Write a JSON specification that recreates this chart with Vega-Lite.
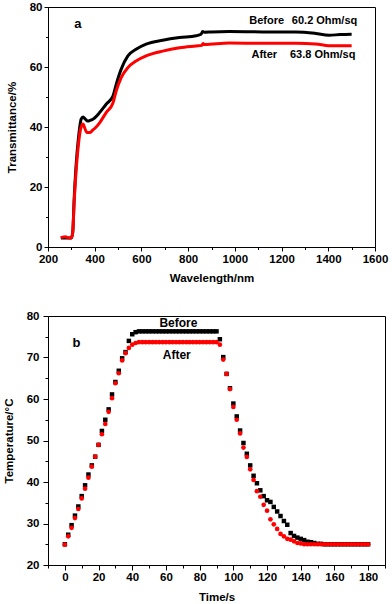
{
  "$schema": "https://vega.github.io/schema/vega-lite/v6.json",
  "padding": {"left": 3, "top": 0, "right": 4, "bottom": 2},
  "spacing": 24,
  "background": "white",
  "config": {
    "font": "Liberation Sans",
    "view": {"stroke": "black", "strokeWidth": 1},
    "axis": {
      "grid": false,
      "domainColor": "black",
      "domainWidth": 1,
      "tickColor": "black",
      "tickWidth": 1,
      "labelColor": "black",
      "labelFont": "Liberation Sans",
      "labelFontSize": 11.5,
      "labelFontWeight": "bold",
      "titleColor": "black",
      "titleFont": "Liberation Sans",
      "titleFontSize": 11.5,
      "titleFontWeight": "bold",
      "labelFlush": false,
      "labelOverlap": false
    }
  },
  "datasets": {
    "trans": [
      {"wl": 255, "T": 3.0, "s": "Before"}, {"wl": 300, "T": 3.0, "s": "Before"},
      {"wl": 306, "T": 5, "s": "Before"}, {"wl": 312, "T": 16, "s": "Before"},
      {"wl": 320, "T": 27, "s": "Before"}, {"wl": 330, "T": 36, "s": "Before"},
      {"wl": 342, "T": 42.6, "s": "Before"}, {"wl": 350, "T": 43.3, "s": "Before"},
      {"wl": 360, "T": 42.6, "s": "Before"}, {"wl": 370, "T": 42.0, "s": "Before"},
      {"wl": 380, "T": 42.2, "s": "Before"}, {"wl": 392, "T": 42.6, "s": "Before"},
      {"wl": 421, "T": 44.8, "s": "Before"}, {"wl": 449, "T": 47.6, "s": "Before"},
      {"wl": 478, "T": 50.3, "s": "Before"}, {"wl": 492, "T": 54.2, "s": "Before"},
      {"wl": 513, "T": 59.2, "s": "Before"}, {"wl": 542, "T": 63.7, "s": "Before"},
      {"wl": 577, "T": 65.9, "s": "Before"}, {"wl": 620, "T": 67.6, "s": "Before"},
      {"wl": 691, "T": 68.9, "s": "Before"}, {"wl": 763, "T": 69.8, "s": "Before"},
      {"wl": 834, "T": 70.4, "s": "Before"}, {"wl": 855, "T": 70.9, "s": "Before"},
      {"wl": 862, "T": 71.8, "s": "Before"}, {"wl": 869, "T": 71.6, "s": "Before"},
      {"wl": 900, "T": 71.7, "s": "Before"}, {"wl": 976, "T": 71.8, "s": "Before"},
      {"wl": 1118, "T": 71.7, "s": "Before"}, {"wl": 1261, "T": 71.7, "s": "Before"},
      {"wl": 1346, "T": 71.2, "s": "Before"}, {"wl": 1403, "T": 70.6, "s": "Before"},
      {"wl": 1450, "T": 70.8, "s": "Before"}, {"wl": 1500, "T": 70.9, "s": "Before"},
      {"wl": 255, "T": 3.0, "s": "After"}, {"wl": 262, "T": 3.3, "s": "After"},
      {"wl": 275, "T": 3.4, "s": "After"}, {"wl": 285, "T": 3.1, "s": "After"},
      {"wl": 300, "T": 3.0, "s": "After"}, {"wl": 306, "T": 5, "s": "After"},
      {"wl": 312, "T": 15, "s": "After"}, {"wl": 320, "T": 25, "s": "After"},
      {"wl": 330, "T": 34, "s": "After"}, {"wl": 340, "T": 39.5, "s": "After"},
      {"wl": 350, "T": 41.0, "s": "After"}, {"wl": 358, "T": 39.5, "s": "After"},
      {"wl": 366, "T": 38.2, "s": "After"}, {"wl": 380, "T": 38.2, "s": "After"},
      {"wl": 392, "T": 39.0, "s": "After"}, {"wl": 400, "T": 39.5, "s": "After"},
      {"wl": 421, "T": 41.4, "s": "After"}, {"wl": 449, "T": 44.8, "s": "After"},
      {"wl": 478, "T": 48.0, "s": "After"}, {"wl": 492, "T": 52.0, "s": "After"},
      {"wl": 513, "T": 56.4, "s": "After"}, {"wl": 542, "T": 59.8, "s": "After"},
      {"wl": 577, "T": 62.0, "s": "After"}, {"wl": 620, "T": 63.7, "s": "After"},
      {"wl": 691, "T": 65.3, "s": "After"}, {"wl": 763, "T": 66.4, "s": "After"},
      {"wl": 834, "T": 67.0, "s": "After"}, {"wl": 858, "T": 67.2, "s": "After"},
      {"wl": 864, "T": 67.8, "s": "After"}, {"wl": 870, "T": 67.5, "s": "After"},
      {"wl": 976, "T": 68.0, "s": "After"}, {"wl": 1118, "T": 67.9, "s": "After"},
      {"wl": 1261, "T": 67.9, "s": "After"}, {"wl": 1346, "T": 67.7, "s": "After"},
      {"wl": 1403, "T": 67.1, "s": "After"}, {"wl": 1500, "T": 67.1, "s": "After"}
    ],
    "alabels": [
      {"x": 1136, "y": 75.3, "text": "Before"},
      {"x": 1384, "y": 75.3, "text": "60.2 Ohm/sq"},
      {"x": 1126, "y": 64.0, "text": "After"},
      {"x": 1376, "y": 64.0, "text": "63.8 Ohm/sq"}
    ],
    "apanel": [{"x": 328, "y": 74.2, "text": "a"}],
    "temp": [
      {"t": 0, "Tb": 25.0, "Ta": 24.9}, {"t": 2, "Tb": 27.3, "Ta": 26.9},
      {"t": 4, "Tb": 29.6, "Ta": 28.95}, {"t": 6, "Tb": 31.9, "Ta": 31.3},
      {"t": 8, "Tb": 34.1, "Ta": 33.5}, {"t": 10, "Tb": 36.6, "Ta": 36.05},
      {"t": 12, "Tb": 39.2, "Ta": 38.4}, {"t": 14, "Tb": 41.8, "Ta": 41.05},
      {"t": 16, "Tb": 44.0, "Ta": 43.7}, {"t": 18, "Tb": 46.1, "Ta": 46.1},
      {"t": 20, "Tb": 48.95, "Ta": 48.95}, {"t": 22, "Tb": 52.3, "Ta": 51.5},
      {"t": 24, "Tb": 55.0, "Ta": 54.0}, {"t": 26, "Tb": 57.5, "Ta": 56.9},
      {"t": 28, "Tb": 61.1, "Ta": 60.2}, {"t": 30, "Tb": 64.1, "Ta": 63.8},
      {"t": 32, "Tb": 66.8, "Ta": 66.2}, {"t": 34, "Tb": 69.8, "Ta": 69.3},
      {"t": 36, "Tb": 71.3, "Ta": 71.05}, {"t": 38, "Tb": 74.0, "Ta": 72.3},
      {"t": 40, "Tb": 75.6, "Ta": 73.1}, {"t": 42, "Tb": 76.1, "Ta": 73.5},
      {"t": 44, "Tb": 76.3, "Ta": 73.7}, {"t": 46, "Tb": 76.3, "Ta": 73.7},
      {"t": 48, "Tb": 76.3, "Ta": 73.7}, {"t": 50, "Tb": 76.3, "Ta": 73.7},
      {"t": 52, "Tb": 76.3, "Ta": 73.7}, {"t": 54, "Tb": 76.3, "Ta": 73.7},
      {"t": 56, "Tb": 76.3, "Ta": 73.7}, {"t": 58, "Tb": 76.3, "Ta": 73.7},
      {"t": 60, "Tb": 76.3, "Ta": 73.7}, {"t": 62, "Tb": 76.3, "Ta": 73.7},
      {"t": 64, "Tb": 76.3, "Ta": 73.7}, {"t": 66, "Tb": 76.3, "Ta": 73.7},
      {"t": 68, "Tb": 76.3, "Ta": 73.7}, {"t": 70, "Tb": 76.3, "Ta": 73.7},
      {"t": 72, "Tb": 76.3, "Ta": 73.7}, {"t": 74, "Tb": 76.3, "Ta": 73.7},
      {"t": 76, "Tb": 76.3, "Ta": 73.7}, {"t": 78, "Tb": 76.3, "Ta": 73.7},
      {"t": 80, "Tb": 76.3, "Ta": 73.7}, {"t": 82, "Tb": 76.3, "Ta": 73.7},
      {"t": 84, "Tb": 76.3, "Ta": 73.7}, {"t": 86, "Tb": 76.3, "Ta": 73.7},
      {"t": 88, "Tb": 76.3, "Ta": 73.7}, {"t": 90, "Tb": 76.3, "Ta": 73.7},
      {"t": 92, "Tb": 74.4, "Ta": 73.1}, {"t": 94, "Tb": 70.1, "Ta": 69.5},
      {"t": 96, "Tb": 66.05, "Ta": 66.05}, {"t": 98, "Tb": 62.6, "Ta": 62.4},
      {"t": 100, "Tb": 58.9, "Ta": 58.1}, {"t": 102, "Tb": 55.8, "Ta": 55.0},
      {"t": 104, "Tb": 52.4, "Ta": 51.7}, {"t": 106, "Tb": 49.4, "Ta": 48.3},
      {"t": 108, "Tb": 46.8, "Ta": 46.05}, {"t": 110, "Tb": 44.0, "Ta": 43.05},
      {"t": 112, "Tb": 41.5, "Ta": 40.5}, {"t": 114, "Tb": 39.7, "Ta": 37.8},
      {"t": 116, "Tb": 38.0, "Ta": 36.45}, {"t": 118, "Tb": 36.6, "Ta": 34.5},
      {"t": 120, "Tb": 35.6, "Ta": 33.1}, {"t": 122, "Tb": 35.2, "Ta": 31.0},
      {"t": 124, "Tb": 34.0, "Ta": 29.8}, {"t": 126, "Tb": 32.9, "Ta": 28.7},
      {"t": 128, "Tb": 31.8, "Ta": 27.5}, {"t": 130, "Tb": 30.6, "Ta": 26.9},
      {"t": 132, "Tb": 29.7, "Ta": 26.3}, {"t": 134, "Tb": 27.7, "Ta": 26.1},
      {"t": 136, "Tb": 27.0, "Ta": 25.7}, {"t": 138, "Tb": 26.6, "Ta": 25.3},
      {"t": 140, "Tb": 26.3, "Ta": 25.2}, {"t": 142, "Tb": 26.0, "Ta": 25.0},
      {"t": 144, "Tb": 25.6, "Ta": 25.0}, {"t": 146, "Tb": 25.5, "Ta": 25.0},
      {"t": 148, "Tb": 25.3, "Ta": 25.0}, {"t": 150, "Tb": 25.1, "Ta": 25.0},
      {"t": 152, "Tb": 25.1, "Ta": 25.0}, {"t": 154, "Tb": 25.0, "Ta": 25.0},
      {"t": 156, "Tb": 25.0, "Ta": 25.0}, {"t": 158, "Tb": 25.0, "Ta": 25.0},
      {"t": 160, "Tb": 25.0, "Ta": 25.0}, {"t": 162, "Tb": 25.0, "Ta": 25.0},
      {"t": 164, "Tb": 25.0, "Ta": 25.0}, {"t": 166, "Tb": 25.0, "Ta": 25.0},
      {"t": 168, "Tb": 25.0, "Ta": 25.0}, {"t": 170, "Tb": 25.0, "Ta": 25.0},
      {"t": 172, "Tb": 25.0, "Ta": 25.0}, {"t": 174, "Tb": 25.0, "Ta": 25.0},
      {"t": 176, "Tb": 25.0, "Ta": 25.0}, {"t": 178, "Tb": 25.0, "Ta": 25.0},
      {"t": 180, "Tb": 25.0, "Ta": 25.0}
    ],
    "blabels": [
      {"x": 67.4, "y": 78.2, "text": "Before"},
      {"x": 66.4, "y": 70.5, "text": "After"}
    ],
    "bpanel": [{"x": 6.9, "y": 73.5, "text": "b"}]
  },
  "vconcat": [
    {
      "width": 327,
      "height": 240,
      "encoding": {
        "x": {
          "field": "wl", "type": "quantitative",
          "scale": {"domain": [200, 1600], "nice": false, "zero": false},
          "axis": {
            "title": "Wavelength/nm",
            "values": [200, 300, 400, 500, 600, 700, 800, 900, 1000, 1100, 1200, 1300, 1400, 1500, 1600],
            "labelExpr": "datum.value % 200 === 0 ? datum.label : ''",
            "format": "d",
            "tickSize": {"condition": {"test": "datum.value % 200 === 0", "value": 4}, "value": 2.5},
            "labelPadding": 2,
            "titlePadding": 8
          }
        },
        "y": {
          "field": "T", "type": "quantitative",
          "scale": {"domain": [0, 80], "nice": false},
          "axis": {
            "title": "Transmittance/%",
            "values": [0, 10, 20, 30, 40, 50, 60, 70, 80],
            "labelExpr": "datum.value % 20 === 0 ? datum.label : ''",
            "tickSize": {"condition": {"test": "datum.value % 20 === 0", "value": 4}, "value": 2.5},
            "labelPadding": 2,
            "titlePadding": 12
          }
        }
      },
      "layer": [
        {
          "data": {"name": "trans"},
          "transform": [{"filter": "datum.s === 'Before'"}],
          "mark": {"type": "line", "color": "black", "strokeWidth": 3, "interpolate": "monotone"}
        },
        {
          "data": {"name": "trans"},
          "transform": [{"filter": "datum.s === 'After'"}],
          "mark": {"type": "line", "color": "#ff0000", "strokeWidth": 3, "interpolate": "monotone"}
        },
        {
          "data": {"name": "alabels"},
          "mark": {"type": "text", "font": "Liberation Sans", "fontWeight": "bold", "fontSize": 11, "color": "black", "align": "center", "baseline": "middle"},
          "encoding": {
            "x": {"field": "x", "type": "quantitative"},
            "y": {"field": "y", "type": "quantitative"},
            "text": {"field": "text"}
          }
        },
        {
          "data": {"name": "apanel"},
          "mark": {"type": "text", "font": "Liberation Sans", "fontWeight": "bold", "fontSize": 13, "color": "black", "align": "center", "baseline": "middle"},
          "encoding": {
            "x": {"field": "x", "type": "quantitative"},
            "y": {"field": "y", "type": "quantitative"},
            "text": {"field": "text"}
          }
        }
      ]
    },
    {
      "width": 337,
      "height": 249,
      "encoding": {
        "x": {
          "field": "t", "type": "quantitative",
          "scale": {"domain": [-10, 190], "nice": false, "zero": false},
          "axis": {
            "title": "Time/s",
            "values": [-10, 0, 10, 20, 30, 40, 50, 60, 70, 80, 90, 100, 110, 120, 130, 140, 150, 160, 170, 180, 190],
            "labelExpr": "datum.value % 20 === 0 ? datum.label : ''",
            "tickSize": {"condition": {"test": "datum.value % 20 === 0", "value": 5}, "value": 3},
            "labelPadding": 1,
            "titlePadding": 9
          }
        },
        "y": {
          "type": "quantitative",
          "scale": {"domain": [20, 80], "nice": false, "zero": false},
          "axis": {
            "title": "Temperature/°C",
            "values": [20, 25, 30, 35, 40, 45, 50, 55, 60, 65, 70, 75, 80],
            "labelExpr": "datum.value % 10 === 0 ? datum.label : ''",
            "tickSize": {"condition": {"test": "datum.value % 10 === 0", "value": 5}, "value": 3},
            "labelPadding": 4,
            "titlePadding": 11.5
          }
        }
      },
      "layer": [
        {
          "data": {"name": "temp"},
          "mark": {"type": "point", "shape": "square", "filled": true, "color": "black", "size": 20, "opacity": 1},
          "encoding": {"y": {"field": "Tb", "type": "quantitative"}}
        },
        {
          "data": {"name": "temp"},
          "mark": {"type": "point", "shape": "circle", "filled": true, "color": "#ff0000", "size": 22, "opacity": 1},
          "encoding": {"y": {"field": "Ta", "type": "quantitative"}}
        },
        {
          "data": {"name": "blabels"},
          "mark": {"type": "text", "font": "Liberation Sans", "fontWeight": "bold", "fontSize": 12, "color": "black", "align": "center", "baseline": "middle"},
          "encoding": {
            "x": {"field": "x", "type": "quantitative"},
            "y": {"field": "y", "type": "quantitative"},
            "text": {"field": "text"}
          }
        },
        {
          "data": {"name": "bpanel"},
          "mark": {"type": "text", "font": "Liberation Sans", "fontWeight": "bold", "fontSize": 13, "color": "black", "align": "center", "baseline": "middle"},
          "encoding": {
            "x": {"field": "x", "type": "quantitative"},
            "y": {"field": "y", "type": "quantitative"},
            "text": {"field": "text"}
          }
        }
      ]
    }
  ]
}
